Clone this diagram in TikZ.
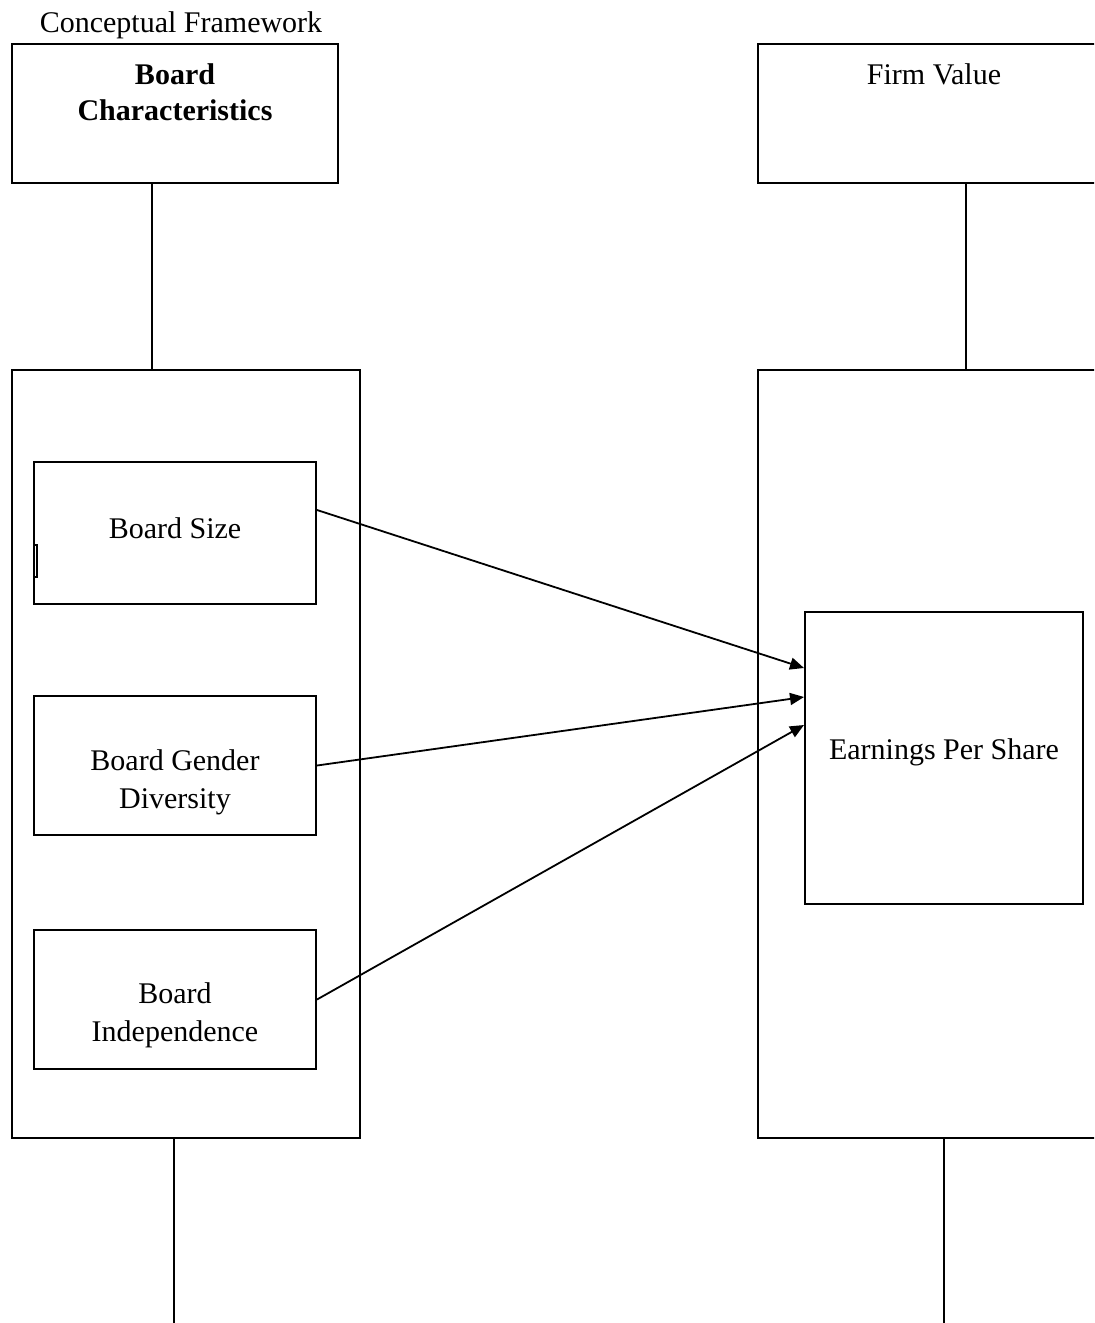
\documentclass[tikz,border=0pt]{standalone}
\usepackage{fontspec}
\setmainfont{Liberation Serif}
\usetikzlibrary{arrows.meta}

\begin{document}
\begin{tikzpicture}[
    x=0.5pt, y=-0.5pt,
    every node/.style={font=\fontsize{15}{19}\selectfont, align=center},
    box/.style={draw, rectangle, line width=1pt, inner sep=0pt},
    conn/.style={line width=1pt},
    arr/.style={line width=0.9pt, -{Triangle[length=7pt,width=6pt]}},
]
    \useasboundingbox (0,0) rectangle (1094,1323);
    \clip (0,0) rectangle (1094,1323);

    \node (title) at (181,25) {Conceptual Framework};

    % left column
    \node[box, minimum width=163pt, minimum height=69.5pt] (bc) at (175,113.5) {};
    \node[font=\fontsize{15}{18}\selectfont\bfseries, anchor=north] (bctext) at ([yshift=-7pt]bc.north) {Board\\Characteristics};
    \node[box, minimum width=174pt, minimum height=384pt] (grp) at (186,754) {};
    \node[box, minimum width=141pt, minimum height=71pt] (bs) at (175,533) {};
    \node (bstext) at ([yshift=2.5pt]bs.center) {Board Size};
    \node[box, minimum width=141pt, minimum height=69.5pt] (bgd) at (175,765.5) {};
    \node (bgdtext) at ([yshift=-8.5pt]bgd.center) {Board Gender\\Diversity};
    \node[box, minimum width=141pt, minimum height=69.5pt] (bi) at (175,999.5) {};
    \node (bitext) at ([yshift=-8pt]bi.center) {Board\\Independence};
    \draw[line width=0.8pt] (34,545) -- (37,545) -- (37,577) -- (34,577);

    % right column
    \node[box, minimum width=176pt, minimum height=69.5pt] (fv) at (934,113.5) {};
    \node[anchor=north] (fvtext) at ([yshift=-7pt]fv.north) {Firm Value};
    \node[box, minimum width=176pt, minimum height=384pt] (rgrp) at (934,754) {};
    \node[box, minimum width=139pt, minimum height=146pt] (eps) at (944,758) {};
    \node (epstext) at ([yshift=3pt]eps.center) {Earnings Per Share};

    \coordinate (lend) at (174,1323);
    \coordinate (rend) at (944,1323);

    \draw[conn] ([xshift=-11.5pt]bc.south) -- ([xshift=-11.5pt]bc.south |- grp.north);
    \draw[conn] ([xshift=16pt]fv.south) -- ([xshift=16pt]fv.south |- rgrp.north);
    \draw[conn] (grp.south -| lend) -- (lend);
    \draw[conn] (rgrp.south -| rend) -- (rend);

    \draw[arr] ([yshift=11.5pt]bs.east) -- ([yshift=45pt]eps.west);
    \draw[arr] (bgd.east) -- ([yshift=30.5pt]eps.west);
    \draw[arr] (bi.east) -- ([yshift=16.5pt]eps.west);
\end{tikzpicture}
\end{document}
